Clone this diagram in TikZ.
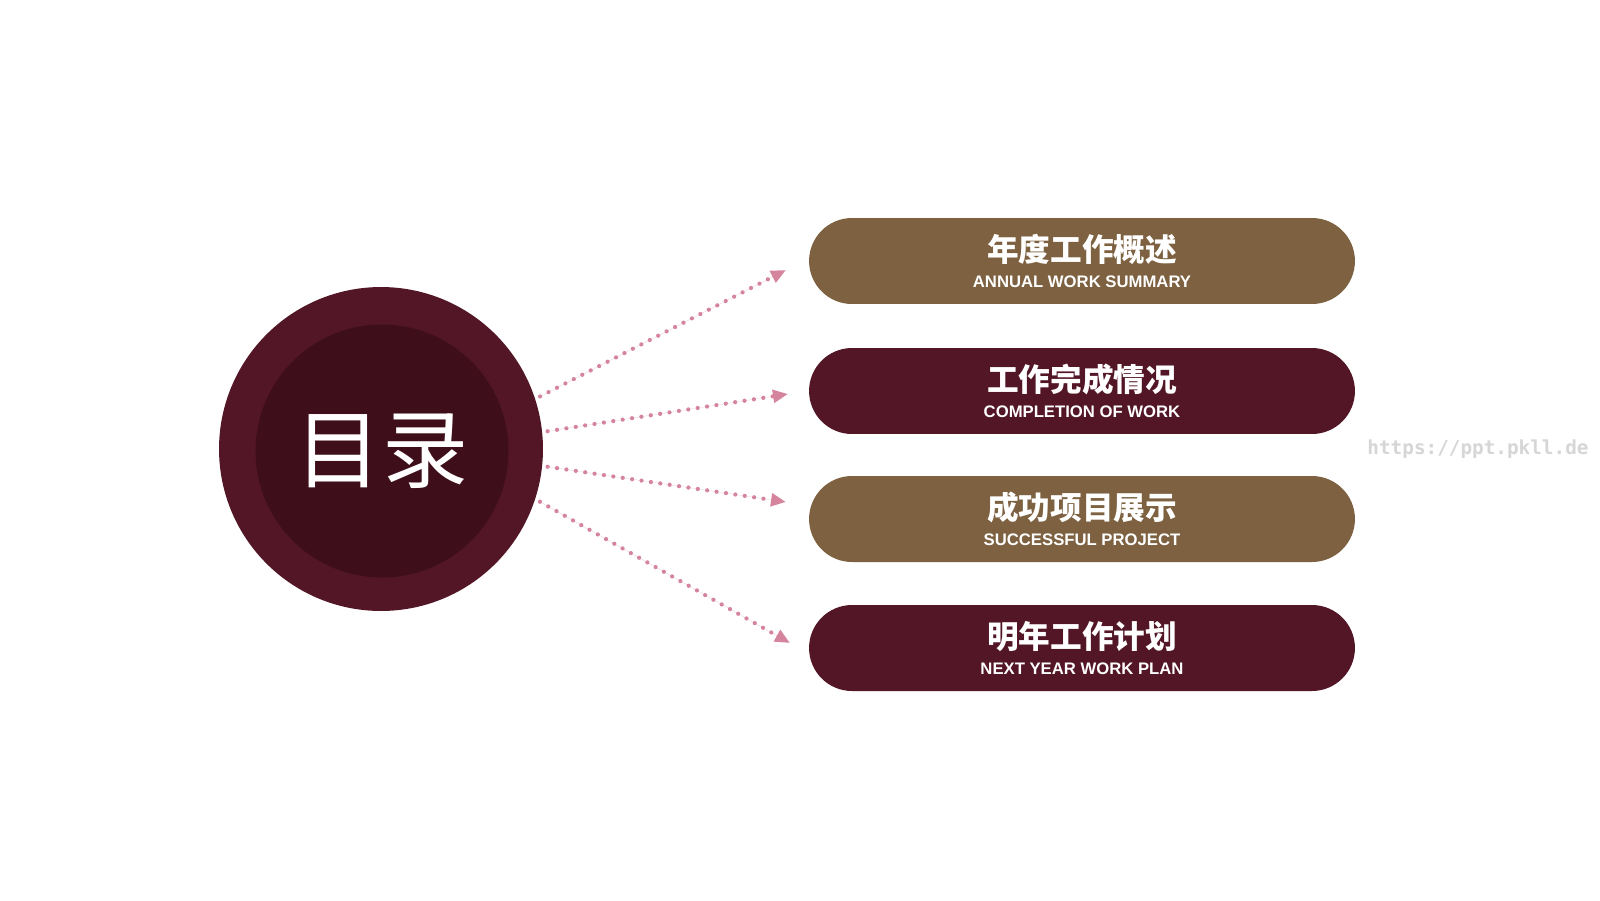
\documentclass[tikz,border=0pt]{standalone}
\usepackage{xcolor}
\usepackage{fontspec}
\setmainfont{Liberation Sans}
\setmonofont{DejaVu Sans Mono}
\newfontfamily\cjk{Noto Sans CJK SC}
\usepackage{tikz}
\usetikzlibrary{arrows.meta}

\definecolor{wine}{HTML}{521626}
\definecolor{winedark}{HTML}{3E0F1A}
\definecolor{bronze}{HTML}{7D6140}
\definecolor{rosy}{HTML}{D4849C}
\definecolor{mark}{HTML}{D6D6D6}

\begin{document}
\begin{tikzpicture}[x=0.02cm,y=-0.02cm]
			\tikzstyle{ring}=[circle, fill=wine, minimum size=6.48cm, inner sep=0pt]
			\tikzstyle{core}=[circle, fill=winedark, minimum size=5.06cm, inner sep=0pt, text=white, font=\cjk\fontsize{49}{52}\selectfont]
			\tikzstyle{pill}=[rectangle, rounded corners=0.86cm, minimum width=10.92cm, minimum height=1.72cm, inner sep=0pt, text=white, align=center]
			\tikzset{edge/.style = {-{Triangle[length=0.3cm,width=0.25cm]}, draw=rosy, fill=rosy, line width=2.4pt, line cap=round, dash pattern=on 0pt off 5.4pt, shorten <=3pt}}
			\newcommand{\zh}[1]{{\cjk\bfseries\fontsize{18}{20}\selectfont #1}}
			\newcommand{\en}[1]{{\bfseries\fontsize{9.5}{11}\selectfont #1}}
			
			\fill[white] (0,0) rectangle (1600,900);
			\useasboundingbox (0,0) rectangle (1600,900);
			
			\node[ring](toc) at (381,449) {};
			\node[core](in) at (382,451) {目录};
			
			\node[pill, fill=bronze](p1) at (1082,261) {\zh{年度工作概述}\\[3pt]\en{ANNUAL WORK SUMMARY}};
			\node[pill, fill=wine](p2) at (1082,391) {\zh{工作完成情况}\\[3pt]\en{COMPLETION OF WORK}};
			\node[pill, fill=bronze](p3) at (1082,519) {\zh{成功项目展示}\\[3pt]\en{SUCCESSFUL PROJECT}};
			\node[pill, fill=wine](p4) at (1082,648) {\zh{明年工作计划}\\[3pt]\en{NEXT YEAR WORK PLAN}};
			
			\coordinate (e1) at (786,270);
			\coordinate (e2) at (788,394);
			\coordinate (e3) at (786,502);
			\coordinate (e4) at (790,643);
			
			\draw[edge] (toc.18) -- (e1);
			\draw[edge] (toc.6) -- (e2);
			\draw[edge] (toc.-6) -- (e3);
			\draw[edge] (toc.-18) -- (e4);
			
			\node[text=mark, font=\ttfamily\bfseries\fontsize{11}{13}\selectfont](url) at (1478,449) {https://ppt.pkll.de};
\end{tikzpicture}
\end{document}
